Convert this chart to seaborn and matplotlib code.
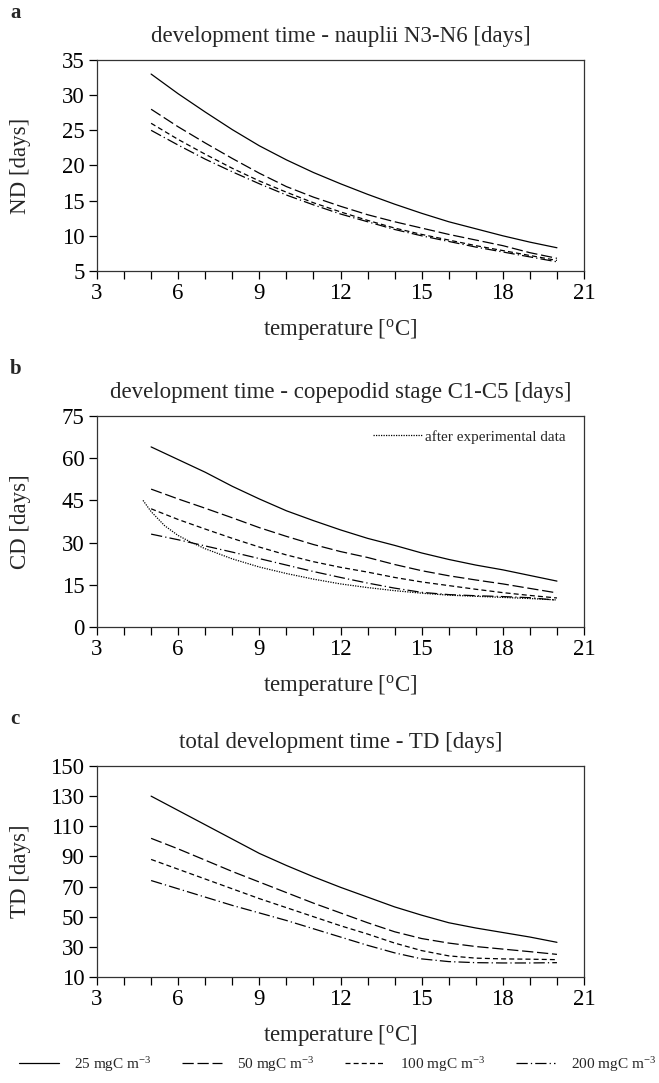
import numpy as np
import pandas as pd
import matplotlib
matplotlib.use("Agg")
import matplotlib.pyplot as plt
from matplotlib.ticker import MultipleLocator
import seaborn as sns

# temperatures of the model curves [deg C]
temps = [5, 6, 7, 8, 9, 10, 11, 12, 13, 14, 15, 16, 17, 18, 19, 20]
food_labels = ["25 mgC m$^{-3}$", "50 mgC m$^{-3}$", "100 mgC m$^{-3}$", "200 mgC m$^{-3}$"]

# a) nauplii N3-N6
nd_25 = [33, 30.2, 27.6, 25.1, 22.8, 20.8, 19.0, 17.4, 15.9, 14.5, 13.2, 12.0, 11.0, 10.0, 9.1, 8.3]
nd_50 = [28, 25.5, 23.2, 21.0, 18.9, 17.0, 15.5, 14.2, 13.0, 12.0, 11.1, 10.2, 9.4, 8.6, 7.6, 6.8]
nd_100 = [26, 23.7, 21.6, 19.6, 17.8, 16.2, 14.7, 13.4, 12.2, 11.1, 10.2, 9.4, 8.6, 7.9, 7.2, 6.5]
nd_200 = [25, 22.9, 20.9, 19.1, 17.4, 15.8, 14.4, 13.1, 12.0, 10.9, 10.0, 9.2, 8.4, 7.7, 7.0, 6.3]

# b) copepodid C1-C5
cd_25 = [64, 59.5, 55, 50, 45.5, 41.3, 37.8, 34.5, 31.5, 29, 26.3, 24, 22, 20.3, 18.3, 16.3]
cd_50 = [49, 45.5, 42.2, 38.8, 35.3, 32.2, 29.3, 26.8, 24.7, 22.2, 20, 18.2, 16.7, 15.3, 13.7, 12.1]
cd_100 = [42, 38.2, 34.8, 31.5, 28.4, 25.6, 23.2, 21.2, 19.5, 17.6, 16, 14.7, 13.4, 12.2, 11.2, 10.3]
cd_200 = [33, 31, 28.8, 26.6, 24.3, 22, 19.7, 17.6, 15.6, 13.8, 12.3, 11.5, 11.1, 10.8, 10.4, 9.5]

# experimental curve for CD
exp_temps = [4.7, 5, 5.5, 6, 6.5, 7, 8, 9, 10, 11, 12, 13, 14, 15, 16, 17, 18, 19, 20]
exp_cd = [45, 41, 36, 32.5, 30, 27.8, 24.2, 21.3, 19, 17, 15.3, 14, 12.9, 12, 11.3, 10.9, 10.5, 10.1, 9.6]

# c) total development time
td_25 = [130, 120.5, 111, 101.5, 92, 84, 76.5, 69.5, 63, 56.5, 51, 46, 42.5, 39.5, 36.5, 33]
td_50 = [102, 95, 87.5, 80, 73, 66, 59, 52.5, 46, 40, 35.5, 32.5, 30.2, 28.5, 26.8, 25]
td_100 = [88, 81.5, 75, 68.5, 62, 56, 50, 44, 38.5, 32.5, 27.5, 24, 22.5, 22, 21.8, 21.5]
td_200 = [74, 68.5, 63, 57.5, 52.5, 47.5, 42, 36.5, 31, 26, 22, 20.2, 19.5, 19.3, 19.3, 19.5]

sns.set_theme(style="ticks")
plt.rcParams["font.family"] = ["Liberation Serif", "DejaVu Serif"]
plt.rcParams["mathtext.fontset"] = "custom"
plt.rcParams["mathtext.rm"] = "Liberation Serif"
plt.rcParams["mathtext.it"] = "Liberation Serif:italic"

line_styles = ["-", (0, (9, 3)), (0, (4, 2.5)), (0, (9, 2.5, 1, 2.5))]

panels = [
    ("a", "development time - nauplii N3-N6 [days]", "ND [days]",
     [nd_25, nd_50, nd_100, nd_200], (5, 35), 5, 0.7498),
    ("b", "development time - copepodid stage C1-C5 [days]", "CD [days]",
     [cd_25, cd_50, cd_100, cd_200], (0, 75), 15, 0.4211),
    ("c", "total development time - TD [days]", "TD [days]",
     [td_25, td_50, td_100, td_200], (10, 150), 20, 0.0979),
]

fig = plt.figure(figsize=(6.59, 10.83), dpi=100)

for letter, title, ylab, series, ylim, ystep, bottom in panels:
    ax = fig.add_axes([0.1472, bottom, 0.739, 0.1948])
    for vals, ls, lab in zip(series, line_styles, food_labels):
        sns.lineplot(x=temps, y=vals, ax=ax, color="black", lw=0.9,
                     linestyle=ls, label=lab, legend=False)
    if letter == "b":
        sns.lineplot(x=exp_temps, y=exp_cd, ax=ax, color="black", lw=0.9,
                     linestyle=(0, (1, 1)), label="after experimental data", legend=False)
        ax.legend(handles=[ax.lines[-1]], loc="upper right", frameon=False,
                  fontsize=11, handlelength=3.2, handletextpad=0.2,
                  bbox_to_anchor=(0.99, 1.0))
    else:
        leg_handles = ax.lines[:4]

    ax.set_xlim(3, 21)
    ax.set_ylim(*ylim)
    ax.xaxis.set_major_locator(MultipleLocator(3))
    ax.xaxis.set_minor_locator(MultipleLocator(1))
    ax.set_yticks(np.arange(ylim[0], ylim[1] + 1, ystep))
    ax.tick_params(axis="both", which="both", direction="out", length=6,
                   width=0.9, labelsize=16.5, pad=3, colors="black")
    for sp in ax.spines.values():
        sp.set_linewidth(0.9)
        sp.set_color("#333333")
    ax.set_title(title, fontsize=16.5, pad=13)
    ax.set_xlabel("temperature [$^{\\mathrm{o}}$C]", fontsize=16.5, labelpad=9)
    ax.set_ylabel(ylab, fontsize=16.5, labelpad=6)
    ax.yaxis.set_label_coords(-0.135, 0.5)

    fig.text(0.023, bottom + 0.1948 + 0.0434, letter, fontsize=15,
             fontweight="bold", ha="center", va="center")

fig.legend(handles=leg_handles, labels=food_labels, loc="lower left",
           bbox_to_anchor=(0.015, 0.0), ncol=4, frameon=False, fontsize=11,
           handlelength=2.6, handletextpad=1.0, columnspacing=2.0,
           borderaxespad=0.2)

fig.savefig("out.png", dpi=100, facecolor="white")
